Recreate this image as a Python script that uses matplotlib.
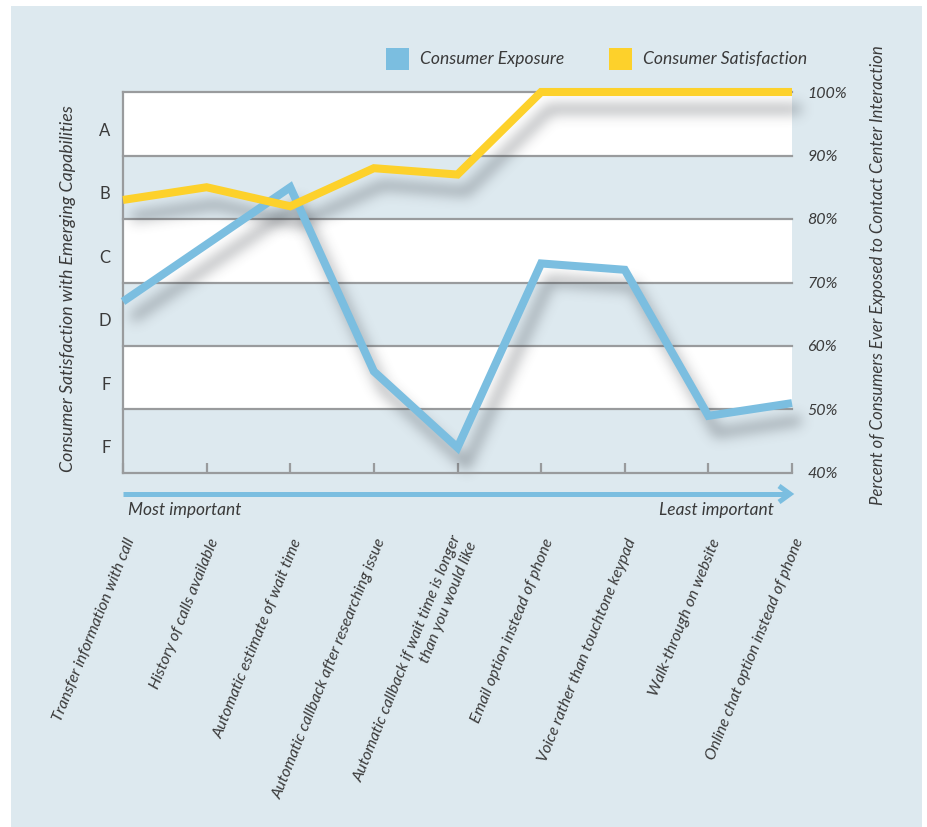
import numpy as np
import matplotlib
matplotlib.use("Agg")
import matplotlib.pyplot as plt
from matplotlib.patches import Rectangle
from matplotlib.lines import Line2D

# ---- data -------------------------------------------------------------
capabilities = [
    "Transfer information with call",
    "History of calls available",
    "Automatic estimate of wait time",
    "Automatic callback after researching issue",
    "Automatic callback if wait time is longer\nthan you would like",
    "Email option instead of phone",
    "Voice rather than touchtone keypad",
    "Walk-through on website",
    "Online chat option instead of phone",
]
exposure = [67, 76, 85, 56, 44, 73, 72, 49, 51]          # % of consumers exposed
satisfaction = [83, 85, 82, 88, 87, 100, 100, 100, 100]  # satisfaction on the same 40-100 scale
grade_labels = ["A", "B", "C", "D", "F", "F"]
pct_ticks = [40, 50, 60, 70, 80, 90, 100]

# ---- styling ----------------------------------------------------------
BG = "#dde9ef"
BLUE = "#7bbee0"
YELLOW = "#fdd12b"
GRID = "#999b9d"
TEXT = "#3a3a3a"
FONT = "Lato"

W, H, DPI = 927, 827, 100
fig = plt.figure(figsize=(W / DPI, H / DPI), dpi=DPI, facecolor="white")

# light blue panel behind everything
fig.patches.append(Rectangle((11 / W, 0), (922 - 11) / W, 1 - 6 / H,
                             transform=fig.transFigure, facecolor=BG,
                             edgecolor="none", zorder=-10))


def px(x, y):
    """figure fraction from pixel coordinates (origin top-left)."""
    return x / W, 1 - y / H


ax_l, ax_r, ax_t, ax_b = 123, 792, 92, 473
ax = fig.add_axes([ax_l / W, 1 - ax_b / H, (ax_r - ax_l) / W, (ax_b - ax_t) / H])
ax.set_facecolor(BG)
x = np.arange(len(capabilities))
ax.set_xlim(0, len(capabilities) - 1)
ax.set_ylim(pct_ticks[0], pct_ticks[-1])

# alternating bands: white on top of each pair
for lo in range(pct_ticks[0], pct_ticks[-1], 10):
    if ((lo - pct_ticks[0]) // 10) % 2 == 1:
        ax.axhspan(lo, lo + 10, facecolor="white", edgecolor="none", zorder=0)
for v in pct_ticks[1:]:
    ax.axhline(v, color=GRID, lw=1.6, zorder=1, clip_on=False)

for s in ["top", "right"]:
    ax.spines[s].set_visible(False)
for s in ["left", "bottom"]:
    ax.spines[s].set_color(GRID)
    ax.spines[s].set_linewidth(1.6)

ax.set_xticks(x)
ax.set_xticklabels([])
ax.tick_params(axis="x", direction="in", length=7.5, width=1.6, color=GRID)

# grade letters on the left
grade_pos = np.arange(95, 40, -10) - 0.9
ax.set_yticks(grade_pos)
ax.set_yticklabels(grade_labels, fontsize=12, family=FONT, color=TEXT)
ax.tick_params(axis="y", length=0, pad=9)

# percent scale on the right
ax2 = ax.twinx()
ax2.set_ylim(pct_ticks[0], pct_ticks[-1])
ax2.set_yticks(pct_ticks)
ax2.set_yticklabels([f"{v}%" for v in pct_ticks], fontsize=11.5, family=FONT,
                    style="italic", color=TEXT)
ax2.tick_params(axis="y", length=0, pad=11)
for s in ax2.spines.values():
    s.set_visible(False)


# ---- blurred drop shadow via agg_filter -------------------------------
class DropShadow:
    def __init__(self, sigma, dx, dy, alpha, color=(0.2, 0.22, 0.25)):
        self.sigma, self.dx, self.dy = sigma, dx, dy
        self.alpha, self.color = alpha, color

    def __call__(self, im, dpi):
        pad = int(3 * self.sigma + max(abs(self.dx), abs(self.dy))) + 2
        a = np.pad(im[:, :, 3], pad)
        r = int(3 * self.sigma)
        k = np.exp(-0.5 * (np.arange(-r, r + 1) / self.sigma) ** 2)
        k /= k.sum()
        a = np.apply_along_axis(lambda v: np.convolve(v, k, mode="same"), 0, a)
        a = np.apply_along_axis(lambda v: np.convolve(v, k, mode="same"), 1, a)
        a = np.roll(a, self.dy, axis=0)
        a = np.roll(a, self.dx, axis=1)
        out = np.zeros(a.shape + (4,), dtype=float)
        out[:, :, :3] = self.color
        out[:, :, 3] = np.clip(a * self.alpha, 0, 1)
        return out, -pad, -pad


LW = 5.8
for series, color in [(exposure, BLUE), (satisfaction, YELLOW)]:
    sh, = ax.plot(x, series, color="k", lw=LW, zorder=2, clip_on=False,
                  solid_joinstyle="miter", solid_capstyle="butt")
    sh.set_agg_filter(DropShadow(sigma=6.5, dx=9, dy=17, alpha=0.45))
    sh.set_rasterized(True)
    ax.plot(x, series, color=color, lw=LW, zorder=3, clip_on=False,
            solid_joinstyle="miter", solid_capstyle="butt")

# ---- category labels --------------------------------------------------
for i, lab in enumerate(capabilities):
    ax.annotate(lab, xy=(i, 0), xycoords=("data", "axes fraction"),
                xytext=(8 * 0.72, -66 * 0.72), textcoords="offset points",
                rotation=68, rotation_mode="anchor", ha="right", va="center",
                multialignment="right", fontsize=11.5, family=FONT,
                style="italic", color=TEXT, annotation_clip=False,
                linespacing=1.25)

# ---- importance arrow -------------------------------------------------
ay = 494
fig.add_artist(Line2D([123 / W, 788 / W], [1 - ay / H, 1 - ay / H],
                      color=BLUE, lw=3.6, solid_capstyle="butt"))
fig.add_artist(Line2D([779 / W, 790 / W, 779 / W],
                      [1 - (ay - 8) / H, 1 - ay / H, 1 - (ay + 8) / H],
                      color=BLUE, lw=3.6, solid_joinstyle="miter",
                      solid_capstyle="butt"))
fig.text(*px(128, 510), "Most important", ha="left", va="center",
         fontsize=12.5, family=FONT, style="italic", color=TEXT)
fig.text(*px(774, 510), "Least important", ha="right", va="center",
         fontsize=12.5, family=FONT, style="italic", color=TEXT)

# ---- axis titles ------------------------------------------------------
fig.text(*px(68, 289), "Consumer Satisfaction with Emerging Capabilities",
         rotation=90, ha="center", va="center", fontsize=12.8, family=FONT,
         style="italic", color=TEXT)
fig.text(*px(878, 275),
         "Percent of Consumers Ever Exposed to Contact Center Interaction",
         rotation=90, ha="center", va="center", fontsize=12.1, family=FONT,
         style="italic", color=TEXT)

# ---- legend -----------------------------------------------------------
for (x0, label, color) in [(386, "Consumer Exposure", BLUE),
                           (609, "Consumer Satisfaction", YELLOW)]:
    fig.patches.append(Rectangle(px(x0, 70), 23 / W, 22 / H,
                                 transform=fig.transFigure, facecolor=color,
                                 edgecolor="none"))
    fig.text(*px(x0 + 34, 59), label, ha="left", va="center", fontsize=12.6,
             family=FONT, style="italic", color=TEXT)

fig.savefig("out.png", dpi=DPI, facecolor="white")
